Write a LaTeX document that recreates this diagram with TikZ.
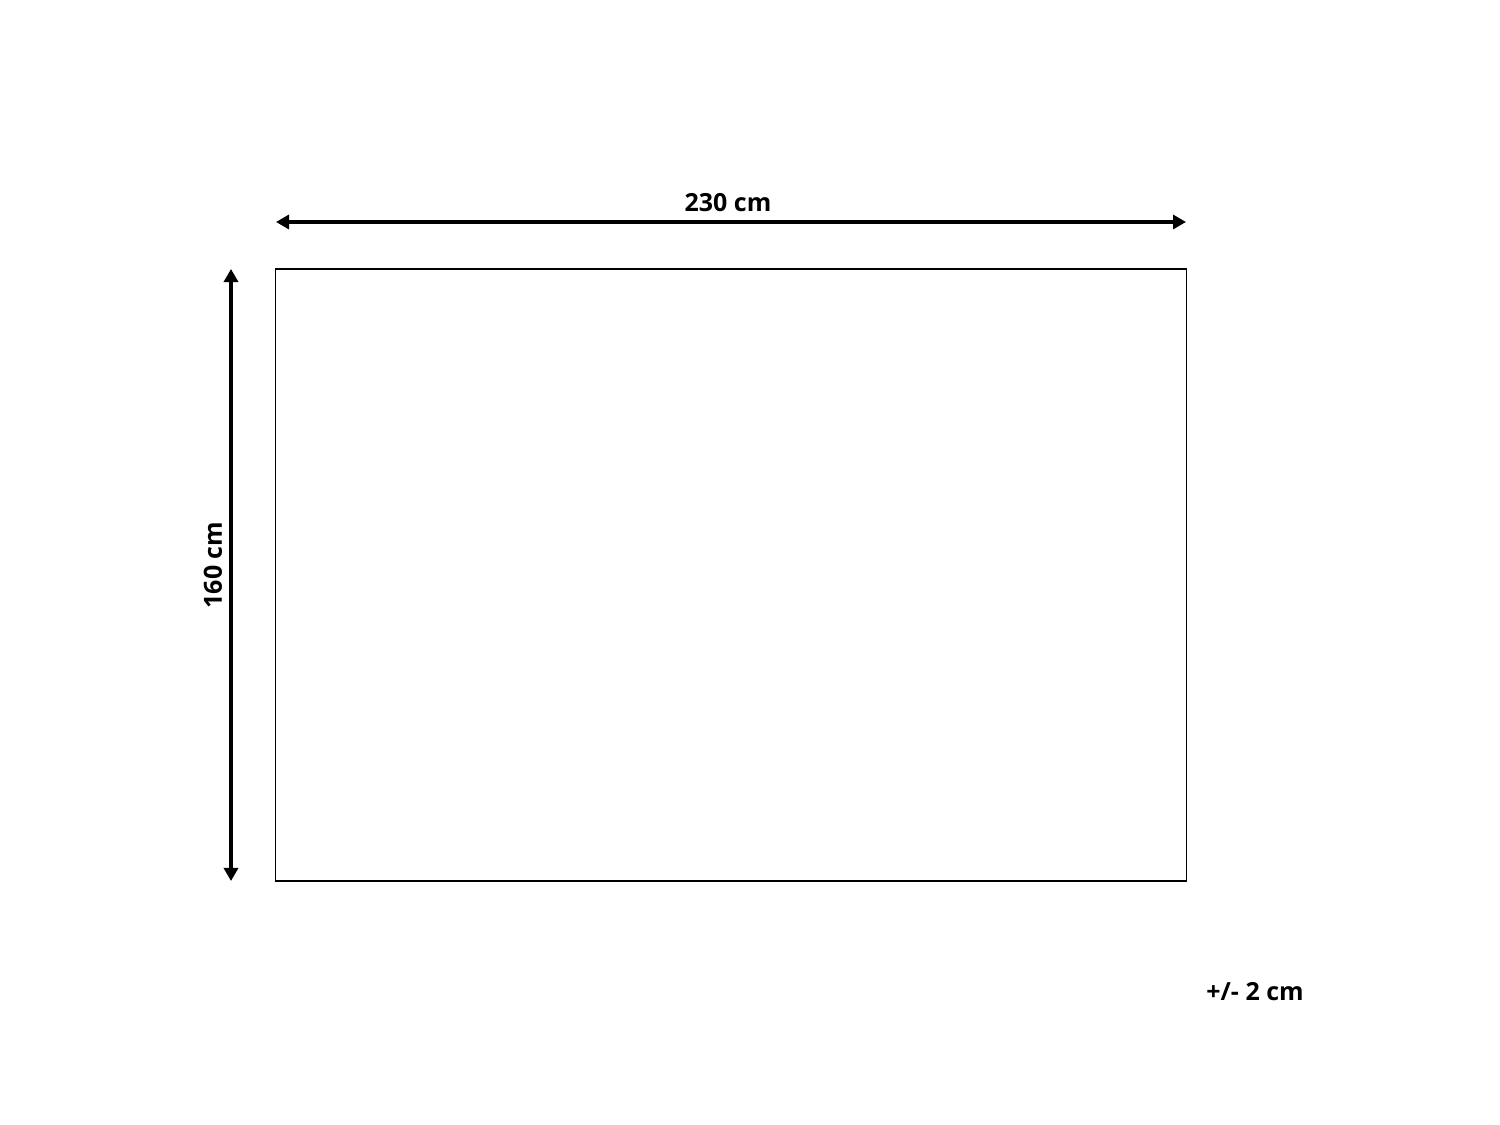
\documentclass[tikz,border=0pt]{standalone}
\usepackage{fontspec}
\setmainfont{Open Sans}
\usetikzlibrary{arrows.meta}
\begin{document}
\begin{tikzpicture}[x=0.01cm,y=-0.01cm,dim/.style={line width=1.1pt,{Triangle[length=0.13cm,width=0.14cm]}-{Triangle[length=0.13cm,width=0.14cm]}},label text/.style={font=\bfseries\fontsize{7.1}{9}\selectfont,inner sep=0pt}]
        \useasboundingbox (0,0) rectangle (1500,1125);
        \node [draw, line width=0.4pt, minimum width=9.1cm, minimum height=6.12cm, inner sep=0pt] (rug) at (731,575) {};
        \coordinate (topL) at (276,222);
        \coordinate (topR) at (1186,222);
        \coordinate (sideT) at (231,269);
        \coordinate (sideB) at (231,881);
        \path [draw, dim] (topL) -- (topR);
        \path [draw, dim] (sideT) -- (sideB);
        \node [label text] (width) at (728,203) {230 cm};
        \node [label text, rotate=90] (height) at (213,565) {160 cm};
        \node [label text] (tol) at (1255,992) {+/- 2 cm};
    \end{tikzpicture}
\end{document}
